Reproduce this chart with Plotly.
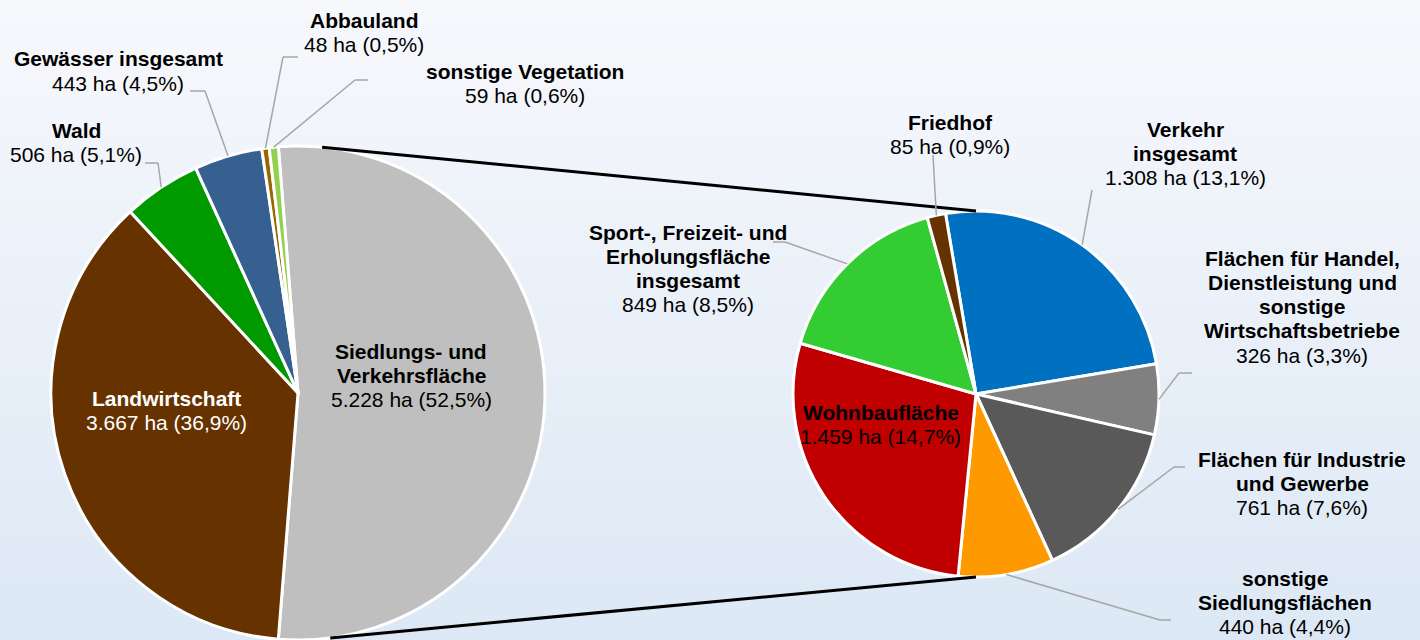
import math
import plotly.graph_objects as go

W, H = 1420, 640

# ---------------- data ----------------
main_labels = ["Siedlungs- und Verkehrsfläche", "Landwirtschaft", "Wald",
               "Gewässer insgesamt", "Abbauland", "sonstige Vegetation"]
main_values = [5228, 3667, 506, 443, 48, 59]

sub_labels = ["Verkehr insgesamt",
              "Flächen für Handel, Dienstleistung und sonstige Wirtschaftsbetriebe",
              "Flächen für Industrie und Gewerbe", "sonstige Siedlungsflächen",
              "Wohnbaufläche", "Sport-, Freizeit- und Erholungsfläche insgesamt",
              "Friedhof"]
sub_values = [1308, 326, 761, 440, 1459, 849, 85]

# ---------------- style ----------------
main_colors = ["#BFBFBF", "#663300", "#009900", "#36608F", "#996600", "#92D050"]
sub_colors = ["#0070C0", "#808080", "#595959", "#FF9900", "#C00000", "#33CC33", "#663300"]
FONT = "Liberation Sans, Arial, sans-serif"
FS = 21
LINE_H = 24.3

main_c, main_r = (298, 393), 247
sub_c, sub_r = (976, 394), 183
sub_rotation = -9.6

total = sum(main_values)
main_rotation = 90 - 180 * main_values[0] / sum(main_values)


def px(x):
    return x / W


def py(y):
    return 1 - y / H


def fmt_value(v):
    s = f"{v:,}".replace(",", ".")
    p = f"{v / total * 100:.1f}".replace(".", ",")
    return f"{s} ha ({p}%)"


def mid_angles(values, rotation):
    tot = sum(values)
    out, acc = [], rotation
    for v in values:
        a = v / tot * 360
        out.append(acc + a / 2)
        acc += a
    return out


def edge_point(center, r, ang):
    a = math.radians(ang)
    return center[0] + r * math.sin(a), center[1] - r * math.cos(a)


fig = go.Figure()

fig.add_trace(go.Pie(
    labels=main_labels, values=main_values, sort=False, direction="clockwise",
    rotation=main_rotation, marker=dict(colors=main_colors, line=dict(color="white", width=3)),
    textinfo="none", hoverinfo="label+value+percent", showlegend=False,
    domain=dict(x=[px(main_c[0] - main_r), px(main_c[0] + main_r)],
                y=[py(main_c[1] + main_r), py(main_c[1] - main_r)]),
))
fig.add_trace(go.Pie(
    labels=sub_labels, values=sub_values, sort=False, direction="clockwise",
    rotation=sub_rotation, marker=dict(colors=sub_colors, line=dict(color="white", width=3)),
    textinfo="none", hoverinfo="label+value", showlegend=False,
    domain=dict(x=[px(sub_c[0] - sub_r), px(sub_c[0] + sub_r)],
                y=[py(sub_c[1] + sub_r), py(sub_c[1] - sub_r)]),
))

shapes = []
# background gradient
N = 64
top_col, bot_col = (247, 248, 252), (220, 232, 245)
for i in range(N):
    t = i / (N - 1)
    col = tuple(round(top_col[k] + (bot_col[k] - top_col[k]) * t) for k in range(3))
    shapes.append(dict(type="rect", xref="paper", yref="paper", layer="below",
                       x0=0, x1=1, y0=1 - (i + 1) / N, y1=1 - i / N,
                       fillcolor=f"rgb{col}", line=dict(width=0)))

# connector lines between pies
p_top = edge_point(main_c, main_r, 5.6)
p_bot = edge_point(main_c, main_r, 172.5)
for p, q in [(p_top, (sub_c[0], sub_c[1] - sub_r)), (p_bot, (sub_c[0], sub_c[1] + sub_r))]:
    shapes.append(dict(type="line", xref="paper", yref="paper", layer="above",
                       x0=px(p[0]), y0=py(p[1]), x1=px(q[0]), y1=py(q[1]),
                       line=dict(color="black", width=3)))

# label layout: name -> (center x, first line y, name lines, text color, leader path)
label_layout = {
    "Siedlungs- und Verkehrsfläche": (411, 351, ["Siedlungs- und", "Verkehrsfläche"], "black", None),
    "Landwirtschaft": (166, 398, ["Landwirtschaft"], "white", None),
    "Wald": (76, 130, ["Wald"], "black", [(158, 163), (145, 163)]),
    "Gewässer insgesamt": (118, 59, ["Gewässer insgesamt"], "black", [(205, 91), (190, 91)]),
    "Abbauland": (364, 20, ["Abbauland"], "black", [(283, 57), (298, 57)]),
    "sonstige Vegetation": (525, 71, ["sonstige Vegetation"], "black", [(355, 80), (368, 80)]),
    "Verkehr insgesamt": (1185, 129, ["Verkehr", "insgesamt"], "black", [(1092, 190)]),
    "Flächen für Handel, Dienstleistung und sonstige Wirtschaftsbetriebe":
        (1302, 258, ["Flächen für Handel,", "Dienstleistung und", "sonstige", "Wirtschaftsbetriebe"],
         "black", [(1179, 373), (1192, 373)]),
    "Flächen für Industrie und Gewerbe": (1302, 459, ["Flächen für Industrie", "und Gewerbe"], "black",
                                          [(1174, 467), (1185, 467)]),
    "sonstige Siedlungsflächen": (1285, 578, ["sonstige", "Siedlungsflächen"], "black",
                                  [(1160, 620), (1171, 620)]),
    "Wohnbaufläche": (881, 412, ["Wohnbaufläche"], "black", None),
    "Sport-, Freizeit- und Erholungsfläche insgesamt":
        (688, 232, ["Sport-, Freizeit- und", "Erholungsfläche", "insgesamt"], "black",
         [(785, 242), (773, 242)]),
    "Friedhof": (950, 122, ["Friedhof"], "black", [(933, 155)]),
}

annotations = []


def add_label(name, value, center, r, ang):
    cx, y0, lines, color, leader = label_layout[name]
    texts = [f"<b>{ln}</b>" for ln in lines] + [fmt_value(value)]
    for i, t in enumerate(texts):
        annotations.append(dict(x=px(cx), y=py(y0 + i * LINE_H), xref="paper", yref="paper",
                                text=t, showarrow=False, xanchor="center", yanchor="middle",
                                font=dict(family=FONT, size=FS, color=color)))
    if leader:
        pts = [edge_point(center, r, ang)] + leader
        for a, b in zip(pts[:-1], pts[1:]):
            shapes.append(dict(type="line", xref="paper", yref="paper", layer="above",
                               x0=px(a[0]), y0=py(a[1]), x1=px(b[0]), y1=py(b[1]),
                               line=dict(color="#A6A6A6", width=1.5)))


for name, v, ang in zip(main_labels, main_values, mid_angles(main_values, main_rotation)):
    add_label(name, v, main_c, main_r, ang)
for name, v, ang in zip(sub_labels, sub_values, mid_angles(sub_values, sub_rotation)):
    add_label(name, v, sub_c, sub_r, ang)

fig.update_layout(
    width=W, height=H, autosize=False,
    margin=dict(l=0, r=0, t=0, b=0, pad=0),
    paper_bgcolor="#F7F8FC", plot_bgcolor="rgba(0,0,0,0)",
    shapes=shapes, annotations=annotations,
    font=dict(family=FONT, size=FS),
)

fig.write_html("out.html", config={"displayModeBar": False},
               post_script="document.body.style.margin='0';")
